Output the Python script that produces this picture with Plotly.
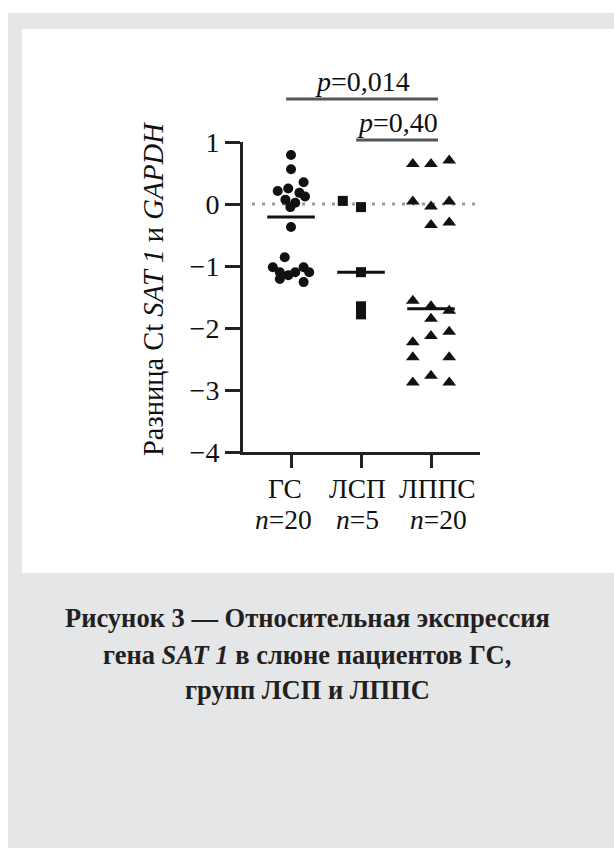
import plotly.graph_objects as go

# ---------------- data ----------------
categories = ["ГС", "ЛСП", "ЛППС"]
n_values = [20, 5, 20]

gs_values = [0.79, 0.56, 0.35, 0.21, 0.25, 0.18, 0.12, 0.07, 0.02, -0.05,
             -0.37, -0.86, -1.02, -1.10, -1.15, -1.10, -1.02, -1.10, -1.26, -1.21]
gs_offsets = [0.0, 0.0, 0.18, -0.19, -0.04, 0.12, 0.20, -0.08, 0.06, -0.01,
              0.0, -0.09, -0.26, -0.16, -0.04, 0.06, 0.18, 0.26, 0.18, -0.16]

lsp_values = [0.05, -0.05, -1.10, -1.65, -1.78]
lsp_offsets = [-0.26, 0.0, 0.0, 0.0, 0.0]

lpps_values = [0.645, 0.645, 0.70, 0.04, -0.04, 0.04, -0.34, -0.30,
               -1.56, -1.65, -1.72, -1.85, -2.13, -2.06, -2.23, -2.47, -2.47,
               -2.88, -2.77, -2.88]
lpps_offsets = [-0.26, 0.0, 0.26, -0.26, 0.0, 0.26, 0.0, 0.26,
                -0.26, 0.0, 0.26, 0.0, 0.0, 0.26, -0.26, -0.26, 0.26,
                -0.26, 0.0, 0.26]

medians = [-0.21, -1.10, -1.69]

p_labels = ["0,014", "0,40"]
p_pairs = [(0, 2), (1, 2)]

y_ticks = [1, 0, -1, -2, -3, -4]
y_ticktext = ["1", "0", "−1", "−2", "−3", "−4"]

caption_lines = ["Рисунок 3 — Относительная экспрессия",
                 "гена <i>SAT 1</i> в слюне пациентов ГС,",
                 "групп ЛСП и ЛППС"]

# ---------------- layout helpers ----------------
W, H = 614, 848
L, R, T, B = 243, 480, 142, 452
def xp(px):
    return (px - L) / (R - L)
def yp(py):
    return (B - py) / (B - T)

SERIF = "Liberation Serif, Times New Roman, serif"
BLACK = "#111111"

fig = go.Figure()

groups = [(gs_values, gs_offsets, "circle", 10),
          (lsp_values, lsp_offsets, "square", 10),
          (lpps_values, lpps_offsets, "triangle-up", 12)]
for i, (vals, offs, sym, sz) in enumerate(groups):
    fig.add_trace(go.Scatter(
        x=[i + o for o in offs], y=vals, mode="markers",
        marker=dict(symbol=sym, size=sz, color=BLACK, line=dict(width=0)),
        showlegend=False, cliponaxis=False))

# median lines
for i, m in enumerate(medians):
    fig.add_trace(go.Scatter(
        x=[i - 0.34, i + 0.34], y=[m, m], mode="lines",
        line=dict(color=BLACK, width=3), showlegend=False))

shapes = []
# background panels
shapes.append(dict(type="rect", xref="paper", yref="paper",
                   x0=xp(8), x1=xp(W + 5), y0=yp(H + 5), y1=yp(13),
                   fillcolor="#e5e6e7", line=dict(width=0), layer="below"))
shapes.append(dict(type="rect", xref="paper", yref="paper",
                   x0=xp(22), x1=xp(W + 5), y0=yp(573), y1=yp(29),
                   fillcolor="white", line=dict(width=0), layer="below"))
# zero dotted line
shapes.append(dict(type="line", xref="x", yref="y", x0=-0.557, x1=2.657, y0=0, y1=0,
                   line=dict(color="#9a9a9a", width=3, dash="3px,7px"), layer="below"))

annotations = []
# significance bars
bar_py = [99, 140]
text_py = [81, 122]
bar_x = [(-0.07, 2.1), (0.93, 2.1)]
for k, ((a, b), lab) in enumerate(zip(p_pairs, p_labels)):
    x0, x1 = bar_x[k]
    shapes.append(dict(type="line", xref="x", yref="paper", x0=x0, x1=x1,
                       y0=yp(bar_py[k]), y1=yp(bar_py[k]),
                       line=dict(color="#555555", width=3)))
    annotations.append(dict(x=(x0 + x1) / 2, y=yp(text_py[k]), xref="x", yref="paper",
                            text="<i>p</i>=" + lab, showarrow=False,
                            font=dict(family=SERIF, size=28, color=BLACK),
                            xanchor="center", yanchor="middle"))

# x category labels
label_shift = [-6, -4, 6]
n_shift = [-8, -4, 7]
for i, (c, n) in enumerate(zip(categories, n_values)):
    annotations.append(dict(x=i, y=yp(488), xref="x", yref="paper", text=c,
                            showarrow=False, xshift=label_shift[i],
                            font=dict(family=SERIF, size=27.5, color=BLACK),
                            xanchor="center", yanchor="middle"))
    annotations.append(dict(x=i, y=yp(519), xref="x", yref="paper",
                            text="<i>n</i>=" + str(n), showarrow=False, xshift=n_shift[i],
                            font=dict(family=SERIF, size=27.5, color=BLACK),
                            xanchor="center", yanchor="middle"))

# y axis title
annotations.append(dict(x=xp(153), y=yp(289), xref="paper", yref="paper",
                        text="Разница Ct <i>SAT 1</i> и <i>GAPDH</i>", textangle=-90,
                        showarrow=False, font=dict(family=SERIF, size=28.5, color=BLACK),
                        xanchor="center", yanchor="middle"))

# caption
cap_py = [618, 655, 690]
for line, py in zip(caption_lines, cap_py):
    annotations.append(dict(x=xp(307), y=yp(py), xref="paper", yref="paper",
                            text="<b>" + line + "</b>", showarrow=False,
                            font=dict(family=SERIF, size=26.5, color="#231f20"),
                            xanchor="center", yanchor="middle"))

fig.update_layout(
    width=W, height=H,
    margin=dict(l=L, r=W - R, t=T, b=H - B, pad=0),
    paper_bgcolor="white", plot_bgcolor="white",
    font=dict(family=SERIF),
    shapes=shapes, annotations=annotations,
    xaxis=dict(range=[-0.686, 2.7], tickvals=[0, 1, 2], ticktext=["", "", ""],
               showline=True, linecolor="#222222", linewidth=3,
               ticks="outside", ticklen=13, tickwidth=2.5, tickcolor="#222222",
               showgrid=False, zeroline=False, fixedrange=True),
    yaxis=dict(range=[-4, 1], tickvals=y_ticks, ticktext=y_ticktext,
               showline=True, linecolor="#222222", linewidth=3,
               ticks="outside", ticklen=15, tickwidth=2.5, tickcolor="#222222",
               tickfont=dict(family=SERIF, size=28, color=BLACK),
               showgrid=False, zeroline=False, fixedrange=True),
)

fig.write_html("out.html")
